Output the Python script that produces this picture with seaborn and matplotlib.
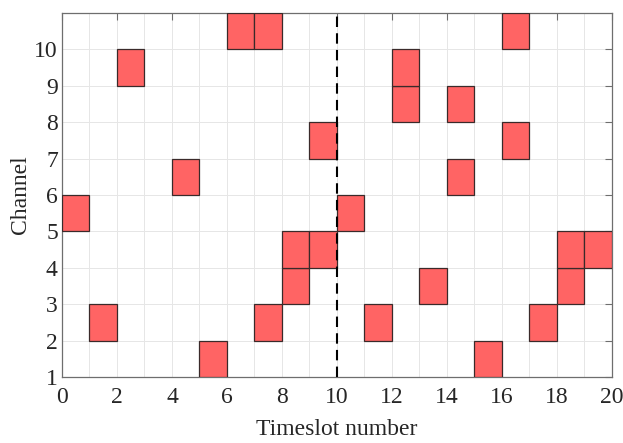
import matplotlib
matplotlib.use("Agg")
import matplotlib.pyplot as plt
import seaborn as sns
import numpy as np
import pandas as pd

# Data
timeslots = [0, 1, 2, 4, 5, 6, 7, 7, 8, 8, 9, 9, 10, 11, 12, 12, 13, 14, 14, 15, 16, 16, 17, 18, 18, 19]
channels = [5, 2, 9, 6, 1, 10, 10, 2, 3, 4, 4, 7, 5, 2, 8, 9, 3, 8, 6, 1, 10, 7, 2, 3, 4, 4]
x_ticks = [0, 2, 4, 6, 8, 10, 12, 14, 16, 18, 20]
y_ticks = [1, 2, 3, 4, 5, 6, 7, 8, 9, 10]
split_slot = 10

sns.set_style("white")
plt.rcParams['font.family'] = ['Liberation Serif', 'DejaVu Serif']

df = pd.DataFrame({"slot": timeslots, "channel": channels})

fig = plt.figure(figsize=(6.23, 4.43), dpi=100)
ax = fig.add_axes([0.0995, 0.149, 0.8825, 0.822])

ax.bar(df["slot"], 1, bottom=df["channel"], width=1, align="edge",
       color="#ff6464", edgecolor="#3a2a2a", linewidth=0.9, zorder=3)

ax.axvline(split_slot, color="black", linestyle=(0, (5, 3)), linewidth=1.5, zorder=4)

ax.set_xlim(0, 20)
ax.set_ylim(1, 11)
ax.set_xticks(x_ticks)
ax.set_yticks(y_ticks)
ax.set_xticks(np.arange(0, 21, 1), minor=True)
ax.grid(True, which="both", color="#e6e6e6", linewidth=0.7, zorder=0)
ax.set_axisbelow(True)

for s in ax.spines.values():
    s.set_color("#6e6e6e")
    s.set_linewidth(0.9)

ax.tick_params(axis="both", which="major", direction="in", length=5, width=0.8,
               color="#6e6e6e", labelsize=17, labelcolor="#262626",
               top=True, right=True)
ax.tick_params(axis="x", which="major", pad=7)
ax.tick_params(axis="y", which="major", pad=3)
ax.tick_params(axis="both", which="minor", length=0, top=False, right=False)

ax.set_xlabel("Timeslot number", fontsize=17, color="#262626", labelpad=8)
ax.set_ylabel("Channel", fontsize=17, color="#262626", labelpad=2)

fig.savefig("out.png", dpi=100)
